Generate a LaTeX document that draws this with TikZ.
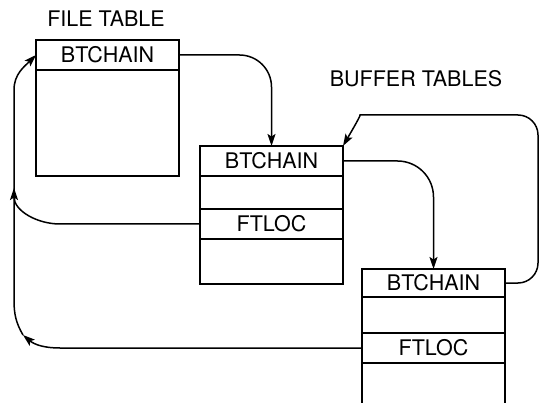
\documentclass[tikz,border=0pt]{standalone}
\usepackage{fontspec}
\setmainfont{TeX Gyre Heros}
\usetikzlibrary{arrows.meta, positioning}

\begin{document}
\begin{tikzpicture}[x=1pt, y=-1pt,
    cell/.style={draw, line width=1.8pt, minimum width=143pt, inner sep=0pt, outer sep=0pt, font=\fontsize{21.5}{21.5}\selectfont},
    link/.style={line width=1.5pt, -{Stealth[length=12pt, width=8pt, inset=2.5pt]}},
    title/.style={font=\fontsize{21.5}{21.5}\selectfont}]
    % Page size; the lowest table runs off the page
    \useasboundingbox (0,0) rectangle (540,403);
    \clip (0,0) rectangle (540,403);

    % Titles
    \node[title] (FT) at (106,19) {FILE TABLE};
    \node[title] (BT) at (416,79) {BUFFER TABLES};

    % File table
    \node[cell, minimum height=30pt, anchor=north west] (F1) at (36,40) {BTCHAIN};
    \node[cell, minimum height=106pt, below=0pt of F1] (F2) {};

    % First buffer table
    \node[cell, minimum height=30pt, anchor=north west] (M1) at (200,146) {BTCHAIN};
    \node[cell, minimum height=33pt, below=0pt of M1] (M2) {};
    \node[cell, minimum height=30pt, below=0pt of M2] (M3) {FTLOC};
    \node[cell, minimum height=45pt, below=0pt of M3] (M4) {};

    % Second buffer table
    \node[cell, minimum height=28pt, anchor=north west] (R1) at (362,269) {BTCHAIN};
    \node[cell, minimum height=36pt, below=0pt of R1] (R2) {};
    \node[cell, minimum height=30pt, below=0pt of R2] (R3) {FTLOC};
    \node[cell, minimum height=50pt, below=0pt of R3] (R4) {};

    % Chain of buffer tables
    \draw[link, rounded corners=32pt] (F1.east) -| (M1.north);
    \draw[link, rounded corners=36pt] (M1.east) -| (R1.north);
    \draw[link, rounded corners=20pt] (R1.east) -| (538,115) -- (380,115)
        to[out=180, in=60] (M1.north east);

    % Back pointers to the file table
    \coordinate (J1) at (14,188);
    \coordinate (J2) at (23,335);
    \draw[link] (M3.west) -- (60,224) to[out=180, in=-90] (J1);
    \draw[link] (R3.west) -- (60,348) to[out=180, in=-40] (J2);
    \draw[link] (J2) to[out=120, in=-90] (14,300) -- (14,90)
        to[out=90, in=225] (F1.west);
\end{tikzpicture}
\end{document}
